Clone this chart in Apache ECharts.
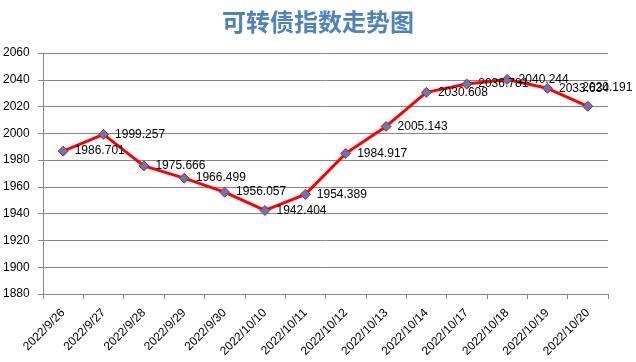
<!DOCTYPE html>
<html><head><meta charset="utf-8">
<script src="https://cdn.jsdelivr.net/npm/echarts@6/dist/echarts.min.js"></script>
<style>html,body{margin:0;padding:0;background:#fff}#c{width:636px;height:362px}</style>
</head><body><div id="c"></div>
<script>
const titleText = '可转债指数走势图';
const categories = ['2022/9/26','2022/9/27','2022/9/28','2022/9/29','2022/9/30','2022/10/10','2022/10/11','2022/10/12','2022/10/13','2022/10/14','2022/10/17','2022/10/18','2022/10/19','2022/10/20'];
const values = [1986.701,1999.257,1975.666,1966.499,1956.057,1942.404,1954.389,1984.917,2005.143,2030.608,2036.781,2040.244,2033.634,2020.191];
const yMin = 1880, yMax = 2060, yStep = 20;

const lastIndex = values.length - 1;

const chart = echarts.init(document.getElementById('c'));
chart.setOption({
  animation: false,
  backgroundColor: '#fff',
  title: {
    text: titleText, left: 'center', top: 5,
    textStyle: {fontFamily: 'Noto Sans CJK SC', fontSize: 24, fontWeight: 'bold', color: '#4f81bd'}
  },
  grid: {left: 43, right: 28, top: 53, bottom: 68, containLabel: false},
  xAxis: {
    type: 'category', data: categories, boundaryGap: true,
    axisLine: {lineStyle: {color: '#868686', width: 1}},
    axisTick: {show: true, alignWithLabel: false, length: 5, lineStyle: {color: '#868686'}},
    axisLabel: {rotate: 45, interval: 0, fontFamily: 'Liberation Sans', fontSize: 12, color: '#000', margin: 17}
  },
  yAxis: {
    type: 'value', min: yMin, max: yMax, interval: yStep,
    axisLine: {show: true, lineStyle: {color: '#868686', width: 1}},
    axisTick: {show: true, length: 5, lineStyle: {color: '#868686'}},
    splitLine: {show: true, lineStyle: {color: '#868686', width: 1}},
    axisLabel: {fontFamily: 'Liberation Sans', fontSize: 12, color: '#000', margin: 40, align: 'left',
      formatter: v => String(v)}
  },
  series: [{
    type: 'line', data: values,
    lineStyle: {color: '#ff0000', width: 3},
    symbol: 'diamond', symbolSize: 10,
    itemStyle: {color: '#4f81bd', borderColor: '#ff0000', borderWidth: 1},
    label: {
      show: true, position: 'right', distance: 6,
      fontFamily: 'Liberation Sans', fontSize: 12, color: '#000',
      formatter: p => p.value.toFixed(3)
    },
    labelLayout: p => (p.dataIndex === lastIndex ? {dx: -17, dy: -19, hideOverlap: false} : {hideOverlap: false}),
    z: 3
  }]
});
</script></body></html>
